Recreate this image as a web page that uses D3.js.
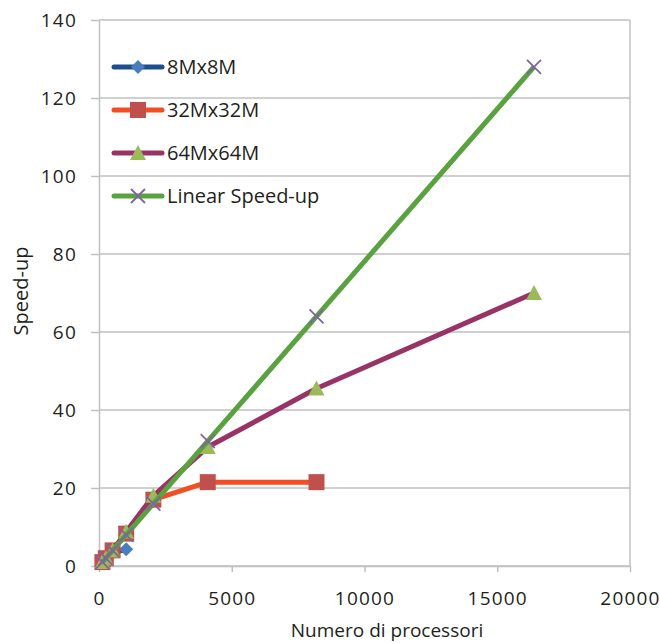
<!DOCTYPE html>
<html>
<head>
<meta charset="utf-8">
<script src="https://cdn.jsdelivr.net/npm/d3@7"></script>
<style>
  body { margin: 0; background: #fff; }
  text { font-family: "Open Sans", "DejaVu Sans", sans-serif; fill: #231f20; }
</style>
</head>
<body>
<svg></svg>
<script>
let processors = [128, 256, 512, 1024, 2048, 4096, 8192, 16384]
let speed8M = [1, 1.9, 3.4, 4.3]
let speed32M = [1, 2, 4, 8.3, 17, 21.5, 21.5]
let speed64M = [1, 2, 4, 8.8, 18, 30.5, 45.5, 70]
let speedLinear = [1, 2, 4, 8, 16, 32, 64, 128]
let seriesNames = ["8Mx8M", "32Mx32M", "64Mx64M", "Linear Speed-up"]
let xTicks = [0, 5000, 10000, 15000, 20000]
let yTicks = [0, 20, 40, 60, 80, 100, 120, 140]

let svgWidth = 660
let svgHeight = 643

let svg = d3.select("svg")
  .attr("width", svgWidth)
  .attr("height", svgHeight)

// SCALES
let xScale = d3.scaleLinear().domain([0, 20000]).range([99, 630])
let yScale = d3.scaleLinear().domain([0, 140]).range([566, 20])

let gridColor = "#c0c0c0"

// GRID
svg.append("g")
  .selectAll("line")
  .data(yTicks)
  .enter()
  .append("line")
  .attr("x1", xScale(0))
  .attr("x2", xScale(20000))
  .attr("y1", d => yScale(d))
  .attr("y2", d => yScale(d))
  .attr("stroke", gridColor)
  .attr("stroke-width", 1.5)

// right border
svg.append("line")
  .attr("x1", xScale(20000)).attr("x2", xScale(20000))
  .attr("y1", yScale(140)).attr("y2", yScale(0))
  .attr("stroke", gridColor).attr("stroke-width", 1.5)

// AXES
let xAxis = d3.axisBottom(xScale)
  .tickValues(xTicks)
  .tickFormat(d3.format("d"))
  .tickSizeInner(6)
  .tickSizeOuter(0)
  .tickPadding(20)

let yAxis = d3.axisLeft(yScale)
  .tickValues(yTicks)
  .tickSizeInner(8)
  .tickSizeOuter(0)
  .tickPadding(14)

let gx = svg.append("g")
  .attr("transform", `translate(0, ${yScale(0)})`)
  .call(xAxis)

let gy = svg.append("g")
  .attr("transform", `translate(${xScale(0)}, 0)`)
  .call(yAxis)

;[gx, gy].forEach(g => {
  g.select(".domain").attr("stroke", gridColor).attr("stroke-width", 1.5)
  g.selectAll(".tick line").attr("stroke", gridColor).attr("stroke-width", 1.5)
  g.selectAll(".tick text")
    .attr("font-family", "'Open Sans', sans-serif")
    .attr("font-size", 19)
    .attr("letter-spacing", 1.2)
    .attr("fill", "#231f20")
})

// AXIS TITLES
svg.append("text")
  .attr("x", 387)
  .attr("y", 637)
  .attr("text-anchor", "middle")
  .attr("font-size", 19)
  .text("Numero di processori")

svg.append("text")
  .attr("transform", "translate(28, 291) rotate(-90)")
  .attr("text-anchor", "middle")
  .attr("font-size", 20)
  .text("Speed-up")

// MARKER SHAPES
let markerPath = {
  diamond: "M0,-7L7,0L0,7L-7,0Z",
  square: "M-8,-8H8V8H-8Z",
  triangle: "M0,-8L8,7H-8Z",
  cross: "M-7,-7L7,7M-7,7L7,-7"
}

let series = [
  { name: seriesNames[0], values: speed8M, line: "#1f4e8c", fill: "#4a7ebb", shape: "diamond" },
  { name: seriesNames[1], values: speed32M, line: "#f24e23", fill: "#c0504d", shape: "square" },
  { name: seriesNames[2], values: speed64M, line: "#993366", fill: "#9bbb59", shape: "triangle" },
  { name: seriesNames[3], values: speedLinear, line: "#5aa23f", fill: "#8064a2", shape: "cross" }
]

let line = d3.line()
  .x(d => xScale(d[0]))
  .y(d => yScale(d[1]))

function drawMarker(sel, s) {
  if (s.shape == "cross") {
    sel.attr("d", markerPath.cross)
      .attr("fill", "none")
      .attr("stroke", s.fill)
      .attr("stroke-width", 1.8)
  } else {
    sel.attr("d", markerPath[s.shape])
      .attr("fill", s.fill)
  }
}

series.forEach(s => {
  let pts = s.values.map((v, i) => [processors[i], v])
  let g = svg.append("g")
  g.append("path")
    .attr("d", line(pts))
    .attr("fill", "none")
    .attr("stroke", s.line)
    .attr("stroke-width", 5)
    .attr("stroke-linejoin", "round")
  g.selectAll("path.m")
    .data(pts)
    .enter()
    .append("path")
    .attr("class", "m")
    .attr("transform", d => `translate(${xScale(d[0])}, ${yScale(d[1])})`)
    .call(drawMarker, s)
})

// LEGEND
let legend = svg.append("g")
  .selectAll("g")
  .data(series)
  .enter()
  .append("g")
  .attr("transform", (d, i) => `translate(114, ${67 + i * 43})`)

legend.append("line")
  .attr("x1", 0).attr("x2", 48)
  .attr("stroke", d => d.line)
  .attr("stroke-width", 5)
  .attr("stroke-linecap", "round")

legend.each(function (s) {
  d3.select(this).append("path")
    .attr("transform", "translate(24, 0)")
    .call(drawMarker, s)
})

legend.append("text")
  .attr("x", 53)
  .attr("y", 7.3)
  .attr("font-size", 20)
  .text(d => d.name)
</script>
</body>
</html>
